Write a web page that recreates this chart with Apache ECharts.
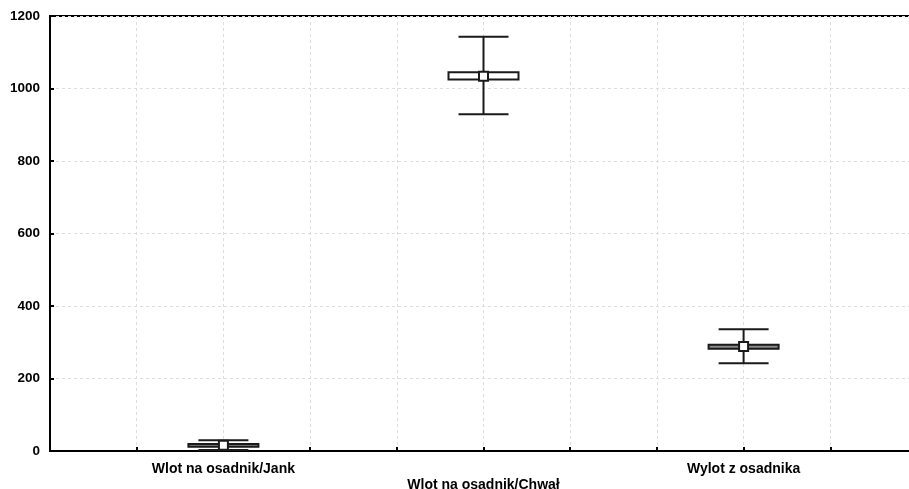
<!DOCTYPE html>
<html>
<head>
<meta charset="utf-8">
<script src="https://cdn.jsdelivr.net/npm/echarts@6/dist/echarts.min.js"></script>
<style>
  html, body { margin: 0; padding: 0; background: #fff; overflow: hidden; width: 909px; height: 489px; }
  #chart { width: 917px; height: 489px; }
</style>
</head>
<body>
<div id="chart"></div>
<script>
// ---- data ----
const categories = ['Wlot na osadnik/Jank', 'Wlot na osadnik/Chwał', 'Wylot z osadnika'];
const positions = [2, 5, 8];
const whiskerLow = [3, 929, 242];
const boxLow = [12, 1025, 282];
const meanValues = [16, 1034, 288];
const boxHigh = [19, 1045, 293];
const whiskerHigh = [30, 1143, 336];
const yTicks = [0, 200, 400, 600, 800, 1000, 1200];

// ---- styles ----
const boxFills = ['#8a8a8a', '#ffffff', '#8a8a8a'];
const lineColor = '#1a1a1a';
const fontFamily = '"Liberation Sans", Arial, sans-serif';

const seriesData = positions.map((p, i) => [p, whiskerLow[i], boxLow[i], meanValues[i], boxHigh[i], whiskerHigh[i], i]);

const labelMap = {};
positions.forEach((p, i) => { labelMap[p] = (i % 2 === 1 ? '\n' : '') + categories[i]; });

const chart = echarts.init(document.getElementById('chart'), null, { renderer: 'canvas' });
chart.setOption({
  animation: false,
  backgroundColor: '#ffffff',
  grid: {
    left: 50, top: 16, right: 0, bottom: 38,
    outerBoundsMode: 'none', containLabel: false,
    show: true, borderColor: '#000', borderWidth: 2, backgroundColor: 'transparent'
  },
  xAxis: {
    type: 'value', min: 0, max: 10, interval: 1,
    axisLine: { show: true, lineStyle: { color: '#000', width: 2 } },
    axisTick: { show: true, inside: true, length: 4, lineStyle: { color: '#000', width: 2 } },
    splitLine: { show: true, lineStyle: { color: '#dddddd', type: [3, 3], width: 1 } },
    axisLabel: {
      margin: 10, color: '#000', fontFamily: fontFamily, fontWeight: 'bold', fontSize: 14,
      lineHeight: 16,
      showMinLabel: false, showMaxLabel: false,
      formatter: v => labelMap[v] || ''
    }
  },
  yAxis: {
    type: 'value', min: yTicks[0], max: yTicks[yTicks.length - 1], interval: 200,
    axisLine: { show: true, lineStyle: { color: '#000', width: 2 } },
    axisTick: { show: true, inside: true, length: 4, lineStyle: { color: '#000', width: 2 } },
    splitLine: { show: true, lineStyle: { color: '#dddddd', type: [3, 3], width: 1 } },
    axisLabel: {
      margin: 10, color: '#000', fontFamily: fontFamily, fontWeight: 'bold', fontSize: 13.5,
      formatter: v => String(v)
    }
  },
  series: [{
    type: 'custom',
    data: seriesData,
    encode: { x: 0, y: [1, 2, 3, 4, 5] },
    renderItem: function (params, api) {
      const x = api.value(0);
      const pLow = api.coord([x, api.value(1)]);
      const pBL = api.coord([x, api.value(2)]);
      const pMean = api.coord([x, api.value(3)]);
      const pBH = api.coord([x, api.value(4)]);
      const pHigh = api.coord([x, api.value(5)]);
      const idx = api.value(6);
      const cx = pMean[0];
      const capHalf = 25, boxHalf = 35, sq = 9;
      const ls = { stroke: lineColor, lineWidth: 2 };
      return {
        type: 'group',
        children: [
          { type: 'line', shape: { x1: cx, y1: pHigh[1], x2: cx, y2: pLow[1] }, style: ls },
          { type: 'line', shape: { x1: cx - capHalf, y1: pHigh[1], x2: cx + capHalf, y2: pHigh[1] }, style: ls },
          { type: 'line', shape: { x1: cx - capHalf, y1: pLow[1], x2: cx + capHalf, y2: pLow[1] }, style: ls },
          { type: 'rect', shape: { x: cx - boxHalf, y: pBH[1], width: boxHalf * 2, height: pBL[1] - pBH[1] },
            style: { fill: boxFills[idx], stroke: lineColor, lineWidth: 2 } },
          { type: 'rect', shape: { x: cx - sq / 2, y: pMean[1] - sq / 2, width: sq, height: sq },
            style: { fill: '#ffffff', stroke: lineColor, lineWidth: 2 } }
        ]
      };
    }
  }]
});
</script>
</body>
</html>
